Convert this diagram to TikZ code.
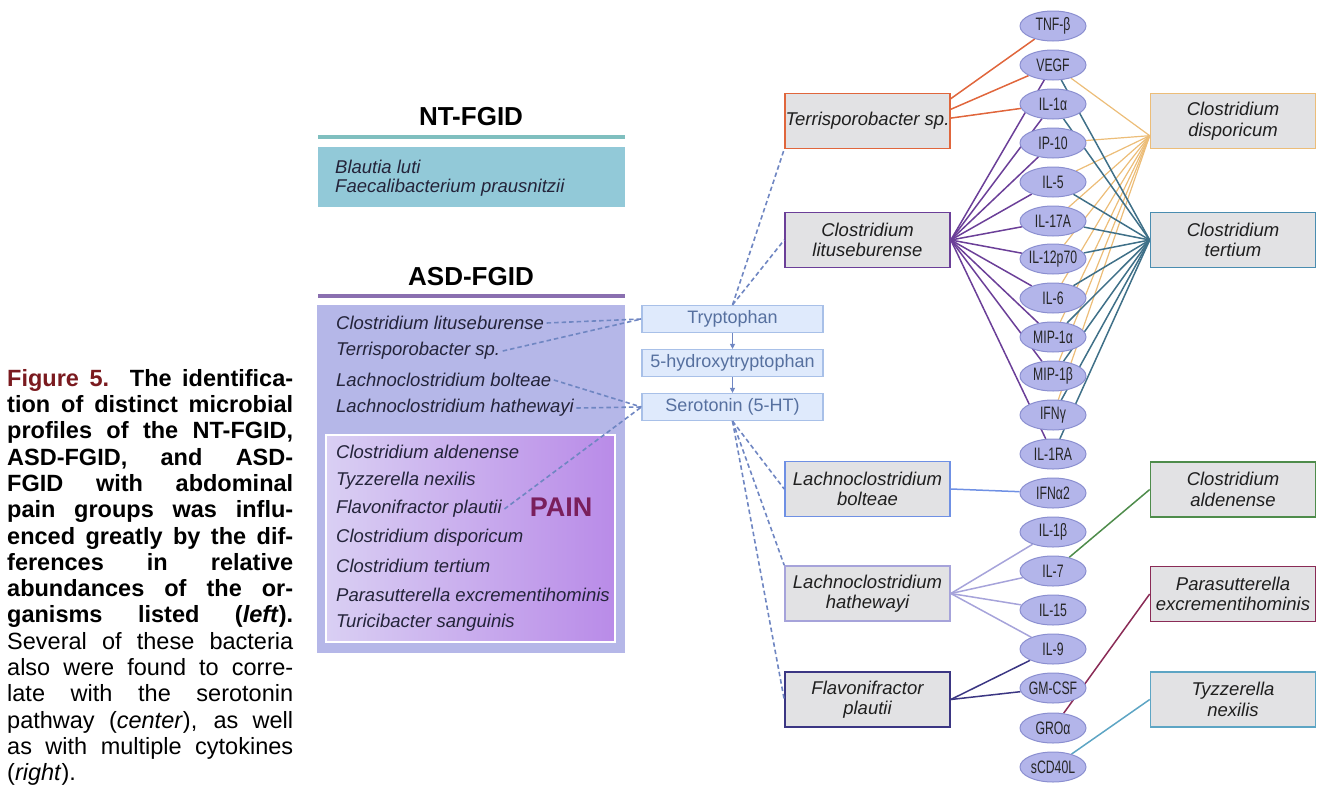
\documentclass[tikz,border=0pt]{standalone}
\usepackage{fontspec}
\setmainfont{Liberation Sans}
\newfontfamily\cytofont[FakeStretch=0.68]{Liberation Sans}
\usetikzlibrary{shapes.geometric,arrows.meta,backgrounds}

\definecolor{figred}{HTML}{7A1A1F}
\definecolor{ntfill}{HTML}{92C9D8}
\definecolor{ntline}{HTML}{7FBFBF}
\definecolor{asdfill}{HTML}{B5B7E8}
\definecolor{asdline}{HTML}{8A6FB0}
\definecolor{painleft}{HTML}{D9CFF3}
\definecolor{painright}{HTML}{B98BE8}
\definecolor{painword}{HTML}{7A1F5C}
\definecolor{taxtext}{HTML}{24243A}
\definecolor{pwfill}{HTML}{DFEAFC}
\definecolor{pwline}{HTML}{A8C0E8}
\definecolor{pwtext}{HTML}{56709F}
\definecolor{dashcol}{HTML}{6F86C2}
\definecolor{bugfill}{HTML}{E2E2E4}
\definecolor{cytofill}{HTML}{B3B5EA}
\definecolor{cytoline}{HTML}{8B8FD0}
\definecolor{terrcol}{HTML}{E0663C}
\definecolor{clitcol}{HTML}{6B3F98}
\definecolor{lbolcol}{HTML}{6F90E4}
\definecolor{lhatcol}{HTML}{A6A3DA}
\definecolor{fplacol}{HTML}{3B3683}
\definecolor{cdiscol}{HTML}{ECBD78}
\definecolor{ctercol}{HTML}{4A8DB0}
\definecolor{cterlink}{HTML}{3F7088}
\definecolor{caldcol}{HTML}{4E8C4B}
\definecolor{pexccol}{HTML}{8A2B56}
\definecolor{tnexcol}{HTML}{5DA5C4}

\begin{document}
\begin{tikzpicture}[x=10pt,y=10pt,
    cyto/.style={ellipse,draw=cytoline,fill=cytofill,line width=1pt,minimum width=66pt,minimum height=30pt,text=black!85,font=\cytofont\fontsize{18}{18}\selectfont,
      execute at begin node={\hbox to 0pt\bgroup\hss},execute at end node={\hss\egroup}},
    bug/.style={rectangle,fill=bugfill,line width=1.6pt,minimum width=165pt,minimum height=55pt,align=center,text=black!88,font=\fontsize{18.5}{20.5}\selectfont\itshape},
    pwbox/.style={rectangle,draw=pwline,fill=pwfill,line width=1.2pt,minimum width=181pt,minimum height=27pt,text=pwtext,font=\fontsize{18}{20}\selectfont},
    taxon/.style={anchor=west,inner sep=2.5pt,text=taxtext,font=\fontsize{18.5}{20}\selectfont\itshape},
    dashlink/.style={draw=dashcol,line width=1.6pt,dash pattern=on 4.5pt off 3pt},
    link/.style={line width=1.5pt}]
            \tikzstyle{every node}+=[inner sep=0pt]
            \useasboundingbox (0,0) rectangle (132.2,-78.7);
            % caption
            \node (caption) [anchor=north west,text width=286pt,align=justify,font=\fontsize{23.5}{26.3}\selectfont] at (0.7,-36.9) {\textbf{\textcolor{figred}{Figure 5.} The identifica-\linebreak tion of distinct microbial\linebreak profiles of the NT-FGID,\linebreak ASD-FGID, and ASD-\linebreak FGID with abdominal\linebreak pain groups was influ-\linebreak enced greatly by the dif-\linebreak ferences in relative\linebreak abundances of the or-\linebreak ganisms listed (\textit{left}).}\linebreak Several of these bacteria\linebreak also were found to corre-\linebreak late with the serotonin\linebreak pathway (\textit{center}), as well\linebreak as with multiple cytokines\linebreak (\textit{right}).};
            % NT-FGID
            \node (nttitle) [font=\fontsize{26}{26}\selectfont\bfseries] at (47.1,-11.7) {NT-FGID};
            \draw [ntline,line width=3.5pt] (31.8,-13.7) -- (62.5,-13.7);
            \node (ntbox) [fill=ntfill,minimum width=307pt,minimum height=60pt] at (47.15,-17.7) {};
            \node (blut) [taxon] at (33.25,-16.7) {Blautia luti};
            \node (fpra) [taxon] at (33.25,-18.8) {Faecalibacterium prausnitzii};
            % ASD-FGID
            \node (asdtitle) [font=\fontsize{26}{26}\selectfont\bfseries] at (47.1,-27.7) {ASD-FGID};
            \draw [asdline,line width=3.5pt] (31.8,-29.6) -- (62.5,-29.6);
            \node (asdbox) [fill=asdfill,minimum width=308pt,minimum height=348pt] at (47.1,-47.9) {};
            \node (painbox) [draw=white,line width=1.5pt,left color=painleft,right color=painright,minimum width=289pt,minimum height=207pt] at (47.05,-53.85) {};
            \node (aclit) [taxon] at (33.35,-32.3) {Clostridium lituseburense};
            \node (aterr) [taxon] at (33.35,-35.1) {Terrisporobacter sp.};
            \node (abol) [taxon] at (33.35,-38.0) {Lachnoclostridium bolteae};
            \node (ahat) [taxon] at (33.35,-40.8) {Lachnoclostridium hathewayi};
            \node (aald) [taxon] at (33.35,-45.2) {Clostridium aldenense};
            \node (atyz) [taxon] at (33.35,-48.05) {Tyzzerella nexilis};
            \node (afla) [taxon] at (33.35,-50.9) {Flavonifractor plautii};
            \node (adis) [taxon] at (33.35,-53.75) {Clostridium disporicum};
            \node (ater) [taxon] at (33.35,-56.6) {Clostridium tertium};
            \node (apar) [taxon] at (33.35,-59.45) {Parasutterella excrementihominis};
            \node (atur) [taxon] at (33.35,-62.3) {Turicibacter sanguinis};
            \node (pain) [text=painword,font=\fontsize{27}{27}\selectfont\bfseries] at (56.1,-50.7) {PAIN};
            % serotonin pathway
            \node (tryp) [pwbox] at (73.25,-31.9) {Tryptophan};
            \node (hydr) [pwbox] at (73.25,-36.3) {5-hydroxytryptophan};
            \node (sero) [pwbox] at (73.25,-40.7) {Serotonin (5-HT)};
            \draw [-{Triangle[length=5pt,width=5pt]},dashcol,line width=1.2pt] (tryp) -- (hydr);
            \draw [-{Triangle[length=5pt,width=5pt]},dashcol,line width=1.2pt] (hydr) -- (sero);
            % bacteria, left column
            \node (tsp) [bug,draw=terrcol] at (86.75,-12.1) {Terrisporobacter sp.};
            \node (clit) [bug,draw=clitcol] at (86.75,-24.0) {Clostridium\\lituseburense};
            \node (lbol) [bug,draw=lbolcol] at (86.75,-48.9) {Lachnoclostridium\\bolteae};
            \node (lhat) [bug,draw=lhatcol] at (86.75,-59.35) {Lachnoclostridium\\hathewayi};
            \node (fpla) [bug,draw=fplacol] at (86.75,-69.95) {Flavonifractor\\plautii};
            % bacteria, right column
            \node (cdis) [bug,draw=cdiscol] at (123.3,-12.1) {Clostridium\\disporicum};
            \node (cter) [bug,draw=ctercol] at (123.3,-24.0) {Clostridium\\tertium};
            \node (cald) [bug,draw=caldcol] at (123.3,-48.95) {Clostridium\\aldenense};
            \node (pexc) [bug,draw=pexccol] at (123.3,-59.4) {Parasutterella\\excrementihominis};
            \node (tnex) [bug,draw=tnexcol] at (123.3,-69.95) {Tyzzerella\\nexilis};
            % cytokines
            \node (tnfb) [cyto] at (105.3,-2.6) {TNF-β};
            \node (vegf) [cyto] at (105.3,-6.5) {VEGF};
            \node (il1a) [cyto] at (105.3,-10.4) {IL-1α};
            \node (ip10) [cyto] at (105.3,-14.3) {IP-10};
            \node (il5) [cyto] at (105.3,-18.2) {IL-5};
            \node (il17a) [cyto] at (105.3,-22.1) {IL-17A};
            \node (il12) [cyto] at (105.3,-25.9) {IL-12p70};
            \node (il6) [cyto] at (105.3,-29.8) {IL-6};
            \node (mip1a) [cyto] at (105.3,-33.7) {MIP-1α};
            \node (mip1b) [cyto] at (105.3,-37.6) {MIP-1β};
            \node (ifng) [cyto] at (105.3,-41.5) {IFNγ};
            \node (il1ra) [cyto] at (105.3,-45.4) {IL-1RA};
            \node (ifna) [cyto] at (105.3,-49.3) {IFNα2};
            \node (il1b) [cyto] at (105.3,-53.2) {IL-1β};
            \node (il7) [cyto] at (105.3,-57.1) {IL-7};
            \node (il15) [cyto] at (105.3,-61.0) {IL-15};
            \node (il9) [cyto] at (105.3,-64.9) {IL-9};
            \node (gmcsf) [cyto] at (105.3,-68.8) {GM-CSF};
            \node (groa) [cyto] at (105.3,-72.8) {GROα};
            \node (scd) [cyto] at (105.3,-76.7) {sCD40L};
            % dashed links to the pathway
            \draw [dashlink] (aclit.east) -- (tryp.west);
            \draw [dashlink] (aterr.east) -- (tryp.west);
            \draw [dashlink] (abol.east) -- (sero.west);
            \draw [dashlink] (ahat.east) -- (sero.west);
            \draw [dashlink] (afla.east) -- (sero.west);
            \draw [dashlink] (tryp.north) -- (tsp.south west);
            \draw [dashlink] (tryp.north) -- (clit.west);
            \draw [dashlink] (sero.south) -- (lbol.west);
            \draw [dashlink] (sero.south) -- (lhat.north west);
            \draw [dashlink] (sero.south) -- (fpla.west);
            \begin{scope}[on background layer]
            % Terrisporobacter
            \draw [terrcol,link] (tsp.15) -- (tnfb);
            \draw [terrcol,link] (tsp.8) -- (vegf);
            \draw [terrcol,link] (tsp.2) -- (il1a);
            % C. lituseburense
            \draw [clitcol,link] (clit.east) -- (vegf);
            \draw [clitcol,link] (clit.east) -- (il1a);
            \draw [clitcol,link] (clit.east) -- (ip10);
            \draw [clitcol,link] (clit.east) -- (il5);
            \draw [clitcol,link] (clit.east) -- (il17a);
            \draw [clitcol,link] (clit.east) -- (il12);
            \draw [clitcol,link] (clit.east) -- (il6);
            \draw [clitcol,link] (clit.east) -- (mip1a);
            \draw [clitcol,link] (clit.east) -- (mip1b);
            \draw [clitcol,link] (clit.east) -- (il1ra);
            % C. disporicum
            \draw [cdiscol,line width=1.2pt] (vegf) -- (cdis.190);
            \draw [cdiscol,line width=1.2pt] (ip10) -- (cdis.190);
            \draw [cdiscol,line width=1.2pt] (il5) -- (cdis.190);
            \draw [cdiscol,line width=1.2pt] (il17a) -- (cdis.190);
            \draw [cdiscol,line width=1.2pt] (il12) -- (cdis.190);
            \draw [cdiscol,line width=1.2pt] (il6) -- (cdis.190);
            \draw [cdiscol,line width=1.2pt] (mip1a) -- (cdis.190);
            \draw [cdiscol,line width=1.2pt] (mip1b) -- (cdis.190);
            \draw [cdiscol,line width=1.2pt] (ifng) -- (cdis.190);
            % C. tertium
            \draw [cterlink,link] (vegf) -- (cter.west);
            \draw [cterlink,link] (il1a) -- (cter.west);
            \draw [cterlink,link] (il5) -- (cter.west);
            \draw [cterlink,link] (il17a) -- (cter.west);
            \draw [cterlink,link] (il12) -- (cter.west);
            \draw [cterlink,link] (il6) -- (cter.west);
            \draw [cterlink,link] (mip1a) -- (cter.west);
            \draw [cterlink,link] (mip1b) -- (cter.west);
            \draw [cterlink,link] (ifng) -- (cter.west);
            \draw [cterlink,link] (il1ra) -- (cter.west);
            % lower bacteria
            \draw [lbolcol,link] (lbol.east) -- (ifna);
            \draw [lhatcol,link] (lhat.east) -- (il1b);
            \draw [lhatcol,link] (lhat.east) -- (il7);
            \draw [lhatcol,link] (lhat.east) -- (il15);
            \draw [lhatcol,link] (lhat.east) -- (il9);
            \draw [fplacol,link] (fpla.east) -- (il9);
            \draw [fplacol,link] (fpla.east) -- (gmcsf);
            \draw [caldcol,link] (il7) -- (cald.west);
            \draw [pexccol,link] (groa) -- (pexc.west);
            \draw [tnexcol,link] (scd) -- (tnex.west);
            \end{scope}
        \end{tikzpicture}
\end{document}
